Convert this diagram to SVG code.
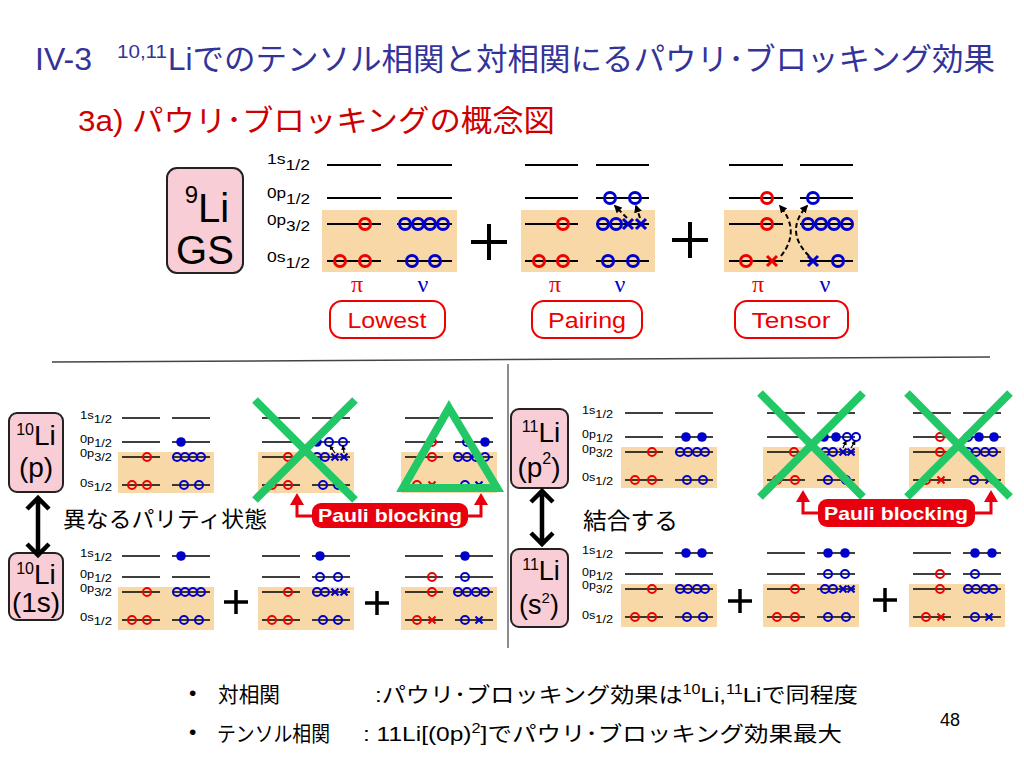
<svg xmlns="http://www.w3.org/2000/svg" xmlns:xlink="http://www.w3.org/1999/xlink" width="1024" height="768" viewBox="0 0 1024 768">
<defs>
<style>
text{font-family:'Liberation Sans','Noto Sans CJK JP',sans-serif}
.lv{stroke:#000;stroke-width:1.5;fill:none}
.ob{fill:#f9d8a8}
.pk{fill:#f9cdd6;stroke:#222;stroke-width:2}
.r{fill:none;stroke:#e00;stroke-width:2}
.b{fill:none;stroke:#00c;stroke-width:2}
.f{fill:#00c}
.xr{fill:none;stroke:#e00;stroke-width:2.2}
.xb{fill:none;stroke:#00c;stroke-width:2.2}
.big .r,.big .b,.big .xr,.big .xb{stroke-width:3}
.big .lv{stroke-width:1.8}
.gr{fill:none;stroke:#22c766;stroke-width:8}
.lab{font-size:14px}
.lbs{font-size:11px}
.pl{stroke:#000;stroke-width:4}
.pls{stroke:#000;stroke-width:3.5}
.tag{fill:#fff;stroke:#e00;stroke-width:2}
.tagt{fill:#e00;font-size:22px;text-anchor:middle}
.gk{font-family:'Liberation Serif',serif;font-size:24px}
.pb{fill:#e8000e}
.pbt{fill:#fff;font-weight:bold;font-size:19px;text-anchor:middle}
.brk{fill:none;stroke:#e8000e;stroke-width:3}
.dbl{fill:none;stroke:#000;stroke-width:4.5}
.dsh{fill:none;stroke:#000;stroke-width:2;stroke-dasharray:5 3}
.dsm{fill:none;stroke:#000;stroke-width:1.2}
.nuc{text-anchor:middle;fill:#000}
</style>
<marker id="ah" viewBox="0 0 10 10" refX="8" refY="5" markerWidth="4" markerHeight="4" orient="auto"><path d="M0 0L10 5L0 10z" fill="#000"/></marker>
<g id="sT">
<rect class="ob" x="-4" y="34" width="96" height="41"/>
<path class="lv" d="M0 0H38M50 0H88M0 24H38M50 24H88M0 39H38M50 39H88M0 67H38M50 67H88"/>
</g>
<g id="sB">
<rect class="ob" x="-4" y="31" width="96" height="43"/>
<path class="lv" d="M0 0H38M50 0H88M0 21H38M50 21H88M0 36H38M50 36H88M0 64H38M50 64H88"/>
</g>
</defs>
<rect width="1024" height="768" fill="#fff"/>

<!-- titles -->
<g id="title" fill="#333399">
<text x="35" y="70" font-size="31" textLength="57" lengthAdjust="spacingAndGlyphs">IV-3</text>
<text x="117" y="58" font-size="18" textLength="50" lengthAdjust="spacingAndGlyphs">10,11</text>
<text x="168" y="70" font-size="31" textLength="827" lengthAdjust="spacingAndGlyphs">Liでのテンソル相関と対相関にるパウリ･ブロッキング効果</text>
</g>
<text id="subtitle" x="78" y="131" font-size="30" fill="#cc0000" textLength="477" lengthAdjust="spacingAndGlyphs">3a) パウリ･ブロッキングの概念図</text>

<!-- top panel -->
<g id="li9gs">
<rect class="pk" x="167" y="168" width="76" height="105" rx="10"/>
<text class="nuc" x="207" y="222"><tspan font-size="24" dy="-19">9</tspan><tspan font-size="40" dy="19">Li</tspan></text>
<text class="nuc" x="205" y="264" font-size="40">GS</text>
</g>
<g id="toplabels">
<text class="lab" x="267" y="164" textLength="43" lengthAdjust="spacingAndGlyphs">1s<tspan dy="6">1/2</tspan></text>
<text class="lab" x="267" y="198" textLength="43" lengthAdjust="spacingAndGlyphs">0p<tspan dy="6">1/2</tspan></text>
<text class="lab" x="267" y="225" textLength="43" lengthAdjust="spacingAndGlyphs">0p<tspan dy="6">3/2</tspan></text>
<text class="lab" x="267" y="262" textLength="43" lengthAdjust="spacingAndGlyphs">0s<tspan dy="6">1/2</tspan></text>
</g>
<g id="lowest" class="big">
<rect class="ob" x="322" y="210" width="135" height="62"/>
<path class="lv" d="M327 165H381M397 165H452M327 198H381M397 198H452M327 224H381M397 224H452M327 261H381M397 261H452"/>
<circle class="r" cx="365" cy="224" r="5.5"/><circle class="r" cx="340" cy="261" r="5.5"/><circle class="r" cx="365" cy="261" r="5.5"/>
<circle class="b" cx="405" cy="224" r="5.5"/><circle class="b" cx="418" cy="224" r="5.5"/><circle class="b" cx="430" cy="224" r="5.5"/><circle class="b" cx="443" cy="224" r="5.5"/>
<circle class="b" cx="412" cy="261" r="5.5"/><circle class="b" cx="435" cy="261" r="5.5"/>
<text class="gk" x="357" y="292" fill="#e00" text-anchor="middle">π</text>
<text class="gk" x="423" y="292" fill="#00c" text-anchor="middle">ν</text>
<rect class="tag" x="330" y="301" width="115" height="37" rx="12"/>
<text class="tagt" x="387" y="328" textLength="79" lengthAdjust="spacingAndGlyphs">Lowest</text>
</g>
<g id="pairing" class="big">
<rect class="ob" x="521" y="210" width="134" height="62"/>
<path class="lv" d="M525 165H578M596 165H649M525 198H578M596 198H649M525 224H578M596 224H649M525 261H578M596 261H649"/>
<circle class="r" cx="563" cy="224" r="5.5"/><circle class="r" cx="539" cy="261" r="5.5"/><circle class="r" cx="563" cy="261" r="5.5"/>
<circle class="b" cx="610" cy="198" r="5.5"/><circle class="b" cx="635" cy="198" r="5.5"/>
<circle class="b" cx="603" cy="224" r="5.5"/><circle class="b" cx="616" cy="224" r="5.5"/>
<path class="xb" d="M623 219l10 10m0-10l-10 10M636 219l10 10m0-10l-10 10"/>
<circle class="b" cx="608" cy="261" r="5.5"/><circle class="b" cx="633" cy="261" r="5.5"/>
<text class="gk" x="555" y="292" fill="#e00" text-anchor="middle">π</text>
<text class="gk" x="620" y="292" fill="#00c" text-anchor="middle">ν</text>
<rect class="tag" x="532" y="301" width="110" height="37" rx="12"/>
<text class="tagt" x="587" y="328" textLength="78" lengthAdjust="spacingAndGlyphs">Pairing</text>
</g>
<g id="tensor" class="big">
<rect class="ob" x="724" y="210" width="134" height="62"/>
<path class="lv" d="M729 165H783M800 165H853M729 198H783M800 198H853M729 224H783M800 224H853M729 261H783M800 261H853"/>
<circle class="r" cx="767" cy="198" r="5.5"/><circle class="r" cx="767" cy="224" r="5.5"/><circle class="r" cx="746" cy="261" r="5.5"/>
<path class="xr" d="M767 256l10 10m0-10l-10 10"/>
<circle class="b" cx="813" cy="198" r="5.5"/>
<circle class="b" cx="808" cy="224" r="5.5"/><circle class="b" cx="821" cy="224" r="5.5"/><circle class="b" cx="834" cy="224" r="5.5"/><circle class="b" cx="847" cy="224" r="5.5"/>
<path class="xb" d="M808 256l10 10m0-10l-10 10"/>
<circle class="b" cx="838" cy="261" r="5.5"/>
<text class="gk" x="758" y="292" fill="#e00" text-anchor="middle">π</text>
<text class="gk" x="825" y="292" fill="#00c" text-anchor="middle">ν</text>
<rect class="tag" x="735" y="301" width="113" height="37" rx="12"/>
<text class="tagt" x="791" y="328" textLength="79" lengthAdjust="spacingAndGlyphs">Tensor</text>
</g>
<g id="topplus">
<path class="pl" d="M471 242H507M489 224V260M672 240H708M690 222V258"/>
</g>

<!-- separators -->
<g id="separators">
<path d="M52 362L990 357" stroke="#444" stroke-width="1.5"/>
<path d="M508 364V648" stroke="#666" stroke-width="1.5"/>
</g>

<!-- bottom left -->
<g id="li10p">
<rect class="pk" x="9" y="413" width="54" height="79" rx="8"/>
<text class="nuc" x="36" y="445"><tspan font-size="16" dy="-10">10</tspan><tspan font-size="28" dy="10">Li</tspan></text>
<text class="nuc" x="36" y="477" font-size="28">(p)</text>
</g>
<g id="li10s">
<rect class="pk" x="9" y="553" width="54" height="67" rx="8"/>
<text class="nuc" x="36" y="584"><tspan font-size="16" dy="-10">10</tspan><tspan font-size="28" dy="10">Li</tspan></text>
<text class="nuc" x="36" y="612" font-size="28">(1s)</text>
</g>
<g id="labelsL">
<text class="lbs" x="80" y="419" textLength="32" lengthAdjust="spacingAndGlyphs">1s<tspan dy="4">1/2</tspan></text>
<text class="lbs" x="80" y="443" textLength="32" lengthAdjust="spacingAndGlyphs">0p<tspan dy="4">1/2</tspan></text>
<text class="lbs" x="80" y="457" textLength="32" lengthAdjust="spacingAndGlyphs">0p<tspan dy="4">3/2</tspan></text>
<text class="lbs" x="80" y="487" textLength="32" lengthAdjust="spacingAndGlyphs">0s<tspan dy="4">1/2</tspan></text>
<text class="lbs" x="80" y="557" textLength="32" lengthAdjust="spacingAndGlyphs">1s<tspan dy="4">1/2</tspan></text>
<text class="lbs" x="80" y="578" textLength="32" lengthAdjust="spacingAndGlyphs">0p<tspan dy="4">1/2</tspan></text>
<text class="lbs" x="80" y="592" textLength="32" lengthAdjust="spacingAndGlyphs">0p<tspan dy="4">3/2</tspan></text>
<text class="lbs" x="80" y="621" textLength="32" lengthAdjust="spacingAndGlyphs">0s<tspan dy="4">1/2</tspan></text>
</g>
<g id="dA1" transform="translate(122,418)">
<use xlink:href="#sT"/>
<circle class="r" cx="25" cy="39" r="4"/><circle class="r" cx="10" cy="67" r="4"/><circle class="r" cx="25" cy="67" r="4"/>
<circle class="f" cx="59" cy="24" r="4.8"/>
<circle class="b" cx="55" cy="39" r="4"/><circle class="b" cx="63" cy="39" r="4"/><circle class="b" cx="71" cy="39" r="4"/><circle class="b" cx="79" cy="39" r="4"/>
<circle class="b" cx="62" cy="67" r="4"/><circle class="b" cx="77" cy="67" r="4"/>
</g>
<g id="dB1" transform="translate(262,418)">
<use xlink:href="#sT"/>
<circle class="r" cx="26" cy="39" r="4"/><circle class="r" cx="10" cy="67" r="4"/><circle class="r" cx="26" cy="67" r="4"/>
<circle class="f" cx="55" cy="24" r="4.8"/><circle class="b" cx="67" cy="24" r="4"/><circle class="b" cx="81" cy="24" r="4"/>
<circle class="b" cx="55" cy="39" r="4"/><circle class="b" cx="63" cy="39" r="4"/>
<path class="xb" d="M69.5 35.5l7 7m0-7l-7 7M78.5 35.5l7 7m0-7l-7 7"/>
<circle class="b" cx="61" cy="67" r="4"/><circle class="b" cx="76" cy="67" r="4"/>
</g>
<g id="dC1" transform="translate(405,418)">
<use xlink:href="#sT"/>
<circle class="r" cx="27" cy="24" r="4"/><circle class="r" cx="27" cy="39" r="4"/><circle class="r" cx="12" cy="67" r="4"/>
<path class="xr" d="M23.5 63.5l7 7m0-7l-7 7"/>
<circle class="b" cx="62" cy="24" r="4"/><circle class="f" cx="80" cy="24" r="4.8"/>
<circle class="b" cx="53" cy="39" r="4"/><circle class="b" cx="62" cy="39" r="4"/><circle class="b" cx="71" cy="39" r="4"/><circle class="b" cx="80" cy="39" r="4"/>
<circle class="b" cx="60" cy="67" r="4"/>
<path class="xb" d="M70.5 63.5l7 7m0-7l-7 7"/>
</g>
<g id="dA2" transform="translate(122,556)">
<use xlink:href="#sB"/>
<circle class="r" cx="25" cy="36" r="4"/><circle class="r" cx="10" cy="64" r="4"/><circle class="r" cx="25" cy="64" r="4"/>
<circle class="f" cx="59" cy="0" r="4.8"/>
<circle class="b" cx="55" cy="36" r="4"/><circle class="b" cx="63" cy="36" r="4"/><circle class="b" cx="71" cy="36" r="4"/><circle class="b" cx="79" cy="36" r="4"/>
<circle class="b" cx="62" cy="64" r="4"/><circle class="b" cx="77" cy="64" r="4"/>
</g>
<g id="dB2" transform="translate(262,556)">
<use xlink:href="#sB"/>
<circle class="r" cx="26" cy="36" r="4"/><circle class="r" cx="10" cy="64" r="4"/><circle class="r" cx="26" cy="64" r="4"/>
<circle class="f" cx="58" cy="0" r="4.8"/>
<circle class="b" cx="58" cy="21" r="4"/><circle class="b" cx="76" cy="21" r="4"/>
<circle class="b" cx="55" cy="36" r="4"/><circle class="b" cx="63" cy="36" r="4"/>
<path class="xb" d="M69.5 32.5l7 7m0-7l-7 7M78.5 32.5l7 7m0-7l-7 7"/>
<circle class="b" cx="61" cy="64" r="4"/><circle class="b" cx="76" cy="64" r="4"/>
</g>
<g id="dC2" transform="translate(405,556)">
<use xlink:href="#sB"/>
<circle class="f" cx="60" cy="0" r="4.8"/>
<circle class="r" cx="27" cy="21" r="4"/><circle class="b" cx="60" cy="21" r="4"/>
<circle class="r" cx="27" cy="36" r="4"/>
<circle class="b" cx="53" cy="36" r="4"/><circle class="b" cx="62" cy="36" r="4"/><circle class="b" cx="71" cy="36" r="4"/><circle class="b" cx="80" cy="36" r="4"/>
<circle class="r" cx="12" cy="64" r="4"/>
<path class="xr" d="M23.5 60.5l7 7m0-7l-7 7"/>
<circle class="b" cx="60" cy="64" r="4"/>
<path class="xb" d="M70.5 60.5l7 7m0-7l-7 7"/>
</g>
<g id="plusL">
<path class="pls" d="M224 602H248M236 590V614M365 603H389M377 591V615"/>
</g>
<text id="paritytext" x="63" y="527" font-size="22" textLength="204" lengthAdjust="spacingAndGlyphs">異なるパリティ状態</text>

<!-- bottom right -->
<g id="li11p">
<rect class="pk" x="511" y="409" width="57" height="79" rx="8"/>
<text class="nuc" x="541" y="442"><tspan font-size="16" dy="-10">11</tspan><tspan font-size="28" dy="10">Li</tspan></text>
<text class="nuc" x="539" y="477" font-size="28">(p<tspan font-size="16" dy="-13">2</tspan><tspan dy="13">)</tspan></text>
</g>
<g id="li11s">
<rect class="pk" x="511" y="549" width="57" height="78" rx="8"/>
<text class="nuc" x="541" y="580"><tspan font-size="16" dy="-10">11</tspan><tspan font-size="27" dy="10">Li</tspan></text>
<text class="nuc" x="539" y="614" font-size="27">(s<tspan font-size="15" dy="-11">2</tspan><tspan dy="11">)</tspan></text>
</g>
<g id="labelsR">
<text class="lbs" x="582" y="414" textLength="31" lengthAdjust="spacingAndGlyphs">1s<tspan dy="4">1/2</tspan></text>
<text class="lbs" x="582" y="438" textLength="31" lengthAdjust="spacingAndGlyphs">0p<tspan dy="4">1/2</tspan></text>
<text class="lbs" x="582" y="453" textLength="31" lengthAdjust="spacingAndGlyphs">0p<tspan dy="4">3/2</tspan></text>
<text class="lbs" x="582" y="481" textLength="31" lengthAdjust="spacingAndGlyphs">0s<tspan dy="4">1/2</tspan></text>
<text class="lbs" x="582" y="554" textLength="31" lengthAdjust="spacingAndGlyphs">1s<tspan dy="4">1/2</tspan></text>
<text class="lbs" x="582" y="576" textLength="31" lengthAdjust="spacingAndGlyphs">0p<tspan dy="4">1/2</tspan></text>
<text class="lbs" x="582" y="589" textLength="31" lengthAdjust="spacingAndGlyphs">0p<tspan dy="4">3/2</tspan></text>
<text class="lbs" x="582" y="619" textLength="31" lengthAdjust="spacingAndGlyphs">0s<tspan dy="4">1/2</tspan></text>
</g>
<g id="dD1" transform="translate(625,413)">
<use xlink:href="#sT"/>
<circle class="r" cx="27" cy="39" r="4"/><circle class="r" cx="10" cy="67" r="4"/><circle class="r" cx="27" cy="67" r="4"/>
<circle class="f" cx="61" cy="24" r="4.8"/><circle class="f" cx="77" cy="24" r="4.8"/>
<circle class="b" cx="55" cy="39" r="4"/><circle class="b" cx="63" cy="39" r="4"/><circle class="b" cx="72" cy="39" r="4"/><circle class="b" cx="80" cy="39" r="4"/>
<circle class="b" cx="62" cy="67" r="4"/><circle class="b" cx="78" cy="67" r="4"/>
</g>
<g id="dE1" transform="translate(767,413)">
<use xlink:href="#sT"/>
<circle class="r" cx="27" cy="39" r="4"/><circle class="r" cx="10" cy="67" r="4"/><circle class="r" cx="28" cy="67" r="4"/>
<circle class="f" cx="57" cy="24" r="4.8"/><circle class="f" cx="69" cy="24" r="4.8"/><circle class="b" cx="80" cy="24" r="4"/><circle class="b" cx="89" cy="24" r="4"/>
<circle class="b" cx="58" cy="39" r="4"/><circle class="b" cx="66" cy="39" r="4"/>
<path class="xb" d="M72.5 35.5l7 7m0-7l-7 7M80.5 35.5l7 7m0-7l-7 7"/>
<circle class="b" cx="61" cy="67" r="4"/><circle class="b" cx="79" cy="67" r="4"/>
</g>
<g id="dF1" transform="translate(913,413)">
<use xlink:href="#sT"/>
<circle class="r" cx="27" cy="24" r="4"/><circle class="r" cx="27" cy="39" r="4"/><circle class="r" cx="13" cy="67" r="4"/>
<path class="xr" d="M24.5 63.5l7 7m0-7l-7 7"/>
<circle class="b" cx="55" cy="24" r="4"/><circle class="f" cx="66" cy="24" r="4.8"/><circle class="f" cx="81" cy="24" r="4.8"/>
<circle class="b" cx="55" cy="39" r="4"/><circle class="b" cx="63" cy="39" r="4"/><circle class="b" cx="72" cy="39" r="4"/><circle class="b" cx="80" cy="39" r="4"/>
<circle class="b" cx="61" cy="67" r="4"/>
<path class="xb" d="M72.5 63.5l7 7m0-7l-7 7"/>
</g>
<g id="dD2" transform="translate(625,553)">
<use xlink:href="#sB"/>
<circle class="r" cx="27" cy="36" r="4"/><circle class="r" cx="10" cy="64" r="4"/><circle class="r" cx="27" cy="64" r="4"/>
<circle class="f" cx="61" cy="0" r="4.8"/><circle class="f" cx="77" cy="0" r="4.8"/>
<circle class="b" cx="55" cy="36" r="4"/><circle class="b" cx="63" cy="36" r="4"/><circle class="b" cx="72" cy="36" r="4"/><circle class="b" cx="80" cy="36" r="4"/>
<circle class="b" cx="62" cy="64" r="4"/><circle class="b" cx="78" cy="64" r="4"/>
</g>
<g id="dE2" transform="translate(767,553)">
<use xlink:href="#sB"/>
<circle class="r" cx="28" cy="36" r="4"/><circle class="r" cx="10" cy="64" r="4"/><circle class="r" cx="28" cy="64" r="4"/>
<circle class="f" cx="61" cy="0" r="4.8"/><circle class="f" cx="78" cy="0" r="4.8"/>
<circle class="b" cx="61" cy="21" r="4"/><circle class="b" cx="78" cy="21" r="4"/>
<circle class="b" cx="58" cy="36" r="4"/><circle class="b" cx="66" cy="36" r="4"/>
<path class="xb" d="M72.5 32.5l7 7m0-7l-7 7M80.5 32.5l7 7m0-7l-7 7"/>
<circle class="b" cx="61" cy="64" r="4"/><circle class="b" cx="79" cy="64" r="4"/>
</g>
<g id="dF2" transform="translate(913,553)">
<use xlink:href="#sB"/>
<circle class="f" cx="62" cy="0" r="4.8"/><circle class="f" cx="79" cy="0" r="4.8"/>
<circle class="r" cx="27" cy="21" r="4"/><circle class="b" cx="62" cy="21" r="4"/>
<circle class="r" cx="27" cy="36" r="4"/>
<circle class="b" cx="55" cy="36" r="4"/><circle class="b" cx="63" cy="36" r="4"/><circle class="b" cx="72" cy="36" r="4"/><circle class="b" cx="80" cy="36" r="4"/>
<circle class="r" cx="13" cy="64" r="4"/>
<path class="xr" d="M24.5 60.5l7 7m0-7l-7 7"/>
<circle class="b" cx="62" cy="64" r="4"/>
<path class="xb" d="M72.5 60.5l7 7m0-7l-7 7"/>
</g>
<g id="plusR">
<path class="pls" d="M728 601H752M740 589V613M873 600H897M885 588V612"/>
</g>
<text id="coupletext" x="583" y="529" font-size="23" textLength="95" lengthAdjust="spacingAndGlyphs">結合する</text>

<!-- green marks -->
<g id="marks">
<path class="gr" d="M255 400L355 500M355 400L255 500"/>
<path class="gr" stroke-linejoin="miter" d="M449 408L497 488H403Z"/>
<path class="gr" d="M760 393L863 497M863 393L760 497"/>
<path class="gr" d="M907 393L1010 497M1010 393L907 497"/>
</g>

<!-- Pauli blocking labels -->
<g id="pauliL">
<rect class="pb" x="312" y="503" width="156" height="25" rx="9"/>
<text class="pbt" x="390" y="522" textLength="144" lengthAdjust="spacingAndGlyphs">Pauli blocking</text>
</g>
<g id="pauliR">
<rect class="pb" x="818" y="499" width="157" height="28" rx="9"/>
<text class="pbt" x="896" y="520" textLength="144" lengthAdjust="spacingAndGlyphs">Pauli blocking</text>
</g>

<!-- connectors -->
<g id="connectors">
<path class="dbl" d="M38 499V554M27 509L38 498L49 509M27 544L38 555L49 544"/>
<path class="dbl" d="M542 492V543M531 502L542 491L553 502M531 533L542 544L553 533"/>
<path class="brk" d="M312 516H297V503"/><path d="M290 505H304L297 493Z" fill="#e8000e"/>
<path class="brk" d="M468 516H481V503"/><path d="M474 505H488L481 493Z" fill="#e8000e"/>
<path class="brk" d="M818 513H803V500"/><path d="M796 502H810L803 490Z" fill="#e8000e"/>
<path class="brk" d="M975 513H991V500"/><path d="M984 502H998L991 490Z" fill="#e8000e"/>
<path class="dsh" d="M781 256Q801 231 780 206" marker-end="url(#ah)"/>
<path class="dsh" d="M809 256Q784 231 807 206" marker-end="url(#ah)"/>
<path class="dsh" stroke-width="1.5" d="M627 218L615 206" marker-end="url(#ah)"/>
<path class="dsh" stroke-width="1.5" d="M640 218L636 206" marker-end="url(#ah)"/>
<path class="dsm" d="M335 453L330 446" marker-end="url(#ah)"/>
<path class="dsm" d="M344 453L343 446" marker-end="url(#ah)"/>
<path class="dsm" d="M843 448L846 441" marker-end="url(#ah)"/>
<path class="dsm" d="M851 448L855 441" marker-end="url(#ah)"/>
</g>

<!-- bullets -->
<g id="bullets" font-size="21">
<text x="189" y="700">•</text>
<text x="218" y="702" textLength="62" lengthAdjust="spacingAndGlyphs">対相関</text>
<text x="375" y="702" textLength="483" lengthAdjust="spacingAndGlyphs">:パウリ･ブロッキング効果は<tspan font-size="14" dy="-8">10</tspan><tspan dy="8">Li,</tspan><tspan font-size="14" dy="-8">11</tspan><tspan dy="8">Liで同程度</tspan></text>
<text x="189" y="739">•</text>
<text x="217" y="741" textLength="113" lengthAdjust="spacingAndGlyphs">テンソル相関</text>
<text x="363" y="741" textLength="479" lengthAdjust="spacingAndGlyphs">: 11Li[(0p)<tspan font-size="14" dy="-8">2</tspan><tspan dy="8">]でパウリ･ブロッキング効果最大</tspan></text>
<text x="940" y="726" font-size="18">48</text>
</g>
</svg>
